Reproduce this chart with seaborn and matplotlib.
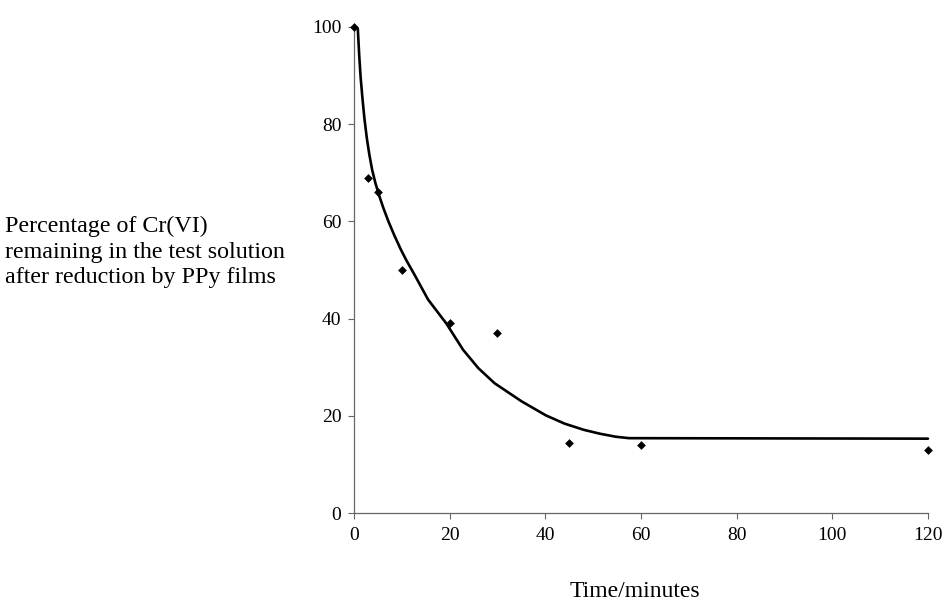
import seaborn as sns
import matplotlib.pyplot as plt
import pandas as pd

# measured points
time_min = [0, 3, 5, 10, 20, 30, 45, 60, 120]
pct_remaining = [100, 69, 66, 50, 39, 37, 14.5, 14, 13]

# trend curve
curve_t = [0.8, 1.1, 1.4, 1.8, 2.2, 2.7, 3.2, 3.8, 4.5, 5.3, 6.2, 7.2, 8.4, 9.8, 11.0, 12.5,
           15.5, 19.3, 22.8, 26.0, 29.4, 35.0, 40.1, 44.0, 48.1, 51.5, 54.7, 57.5, 120]
curve_y = [99.6, 94.0, 89.5, 85.0, 81.0, 77.0, 73.8, 70.6, 67.8, 65.2, 62.6, 60.0, 57.2, 54.2, 51.9, 49.3,
           43.9, 39.0, 33.6, 29.8, 26.7, 23.0, 20.1, 18.4, 17.1, 16.3, 15.7, 15.4, 15.3]

pts = pd.DataFrame({"t": time_min, "pct": pct_remaining})
curve = pd.DataFrame({"t": curve_t, "pct": curve_y})

sns.set_style("ticks")
plt.rcParams['font.family'] = ['Liberation Serif', 'DejaVu Serif']
plt.rcParams['text.color'] = 'black'

fig = plt.figure(figsize=(9.47, 6.13), dpi=100)
ax = fig.add_axes([0.3738, 0.1631, 0.6061, 0.7929])

sns.lineplot(data=curve, x="t", y="pct", ax=ax, color="black", linewidth=1.9,
             sort=False, clip_on=False)
sns.scatterplot(data=pts, x="t", y="pct", ax=ax, marker="D", s=20, color="black",
                edgecolor="black", linewidth=0, clip_on=False, zorder=3)

ax.set_xlim(0, 120)
ax.set_ylim(0, 100)
ax.set_xticks(range(0, 121, 20))
ax.set_yticks(range(0, 101, 20))
ax.tick_params(axis="both", labelsize=14, length=4, width=0.8, color="#666666",
               labelcolor="black")
ax.tick_params(axis="x", pad=6)
ax.tick_params(axis="y", pad=5)
for s in ["top", "right"]:
    ax.spines[s].set_visible(False)
for s in ["left", "bottom"]:
    ax.spines[s].set_color("#666666")
    ax.spines[s].set_linewidth(0.9)

ax.set_xlabel("")
ax.set_ylabel("")
fig.text(0.6705, 0.018, "Time/minutes", ha="center", va="bottom", fontsize=17, color="black")
fig.text(0.005, 0.589, "Percentage of Cr(VI)\nremaining in the test solution\nafter reduction by PPy films",
         ha="left", va="center", fontsize=17.3, linespacing=1.3, color="black")

fig.savefig("out.png", dpi=100)
